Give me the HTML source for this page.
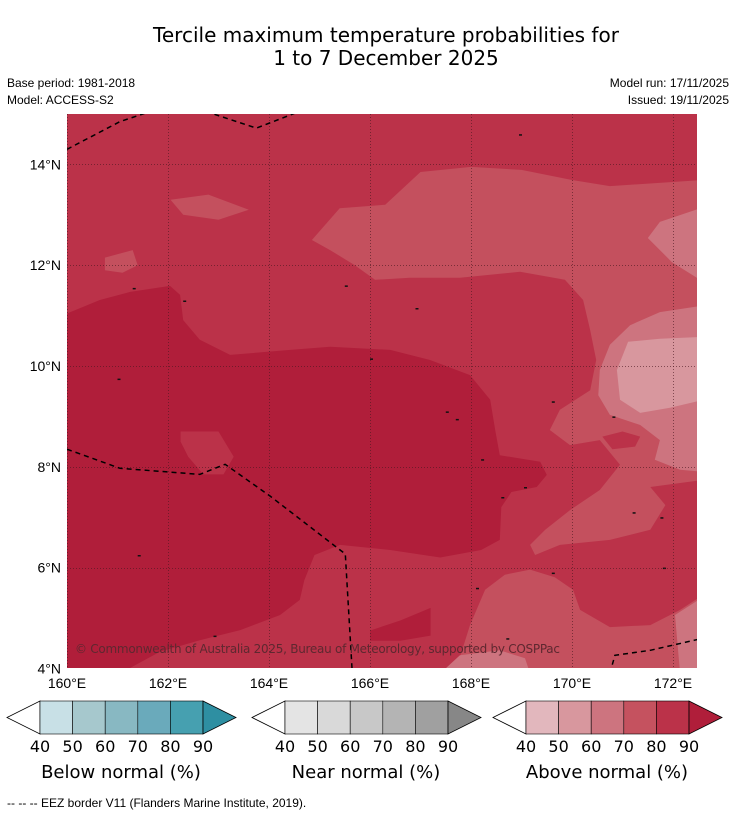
<!DOCTYPE html>
<html><head><meta charset="utf-8">
<style>
body{margin:0;background:#fff;font-family:"Liberation Sans","DejaVu Sans",sans-serif;}
svg{display:block}
</style></head>
<body>
<svg id="chart" width="736" height="816" viewBox="0 0 736 816" xmlns="http://www.w3.org/2000/svg">
<text x="386" y="42" text-anchor="middle" font-size="20" font-family="DejaVu Sans, Liberation Sans, sans-serif">Tercile maximum temperature probabilities for</text>
<text x="386" y="65" text-anchor="middle" font-size="20" font-family="DejaVu Sans, Liberation Sans, sans-serif">1 to 7 December 2025</text>
<text x="7" y="87" font-size="12">Base period: 1981-2018</text>
<text x="7" y="104" font-size="12">Model: ACCESS-S2</text>
<text x="729" y="87" font-size="12" text-anchor="end">Model run: 17/11/2025</text>
<text x="729" y="104" font-size="12" text-anchor="end">Issued: 19/11/2025</text>
<defs><clipPath id="mapclip"><rect x="67" y="114" width="630" height="554"/></clipPath></defs>
<g id="map" clip-path="url(#mapclip)"></g>
<g id="axes"></g>
<g id="legends"></g>
<text x="7" y="807" font-size="12">--  --  -- EEZ border V11 (Flanders Marine Institute, 2019).</text>
</svg>
<script>
const lonTicks=[160,162,164,166,168,170,172];
const latTicks=[4,6,8,10,12,14];
const levelColors={c90:"#b01e3a",c80:"#bb3249",c70:"#c4505e",c60:"#cd747f",c50:"#d8979e"};
// contour polygons [lon,lat]
const above70Top=[[164.85,12.5],[165.4,13.13],[166.3,13.2],[167.0,13.85],[168.0,13.95],[169.0,13.89],[170.0,13.69],[170.75,13.57],[172.6,13.69],[172.6,7.74],[171.55,7.6],[171.85,7.24],[171.55,6.75],[170.75,6.55],[169.76,6.45],[169.27,6.25],[169.17,6.45],[169.47,6.75],[169.96,7.14],[170.55,7.54],[170.95,8.04],[170.55,8.53],[169.96,8.43],[169.56,8.73],[169.76,9.13],[170.36,9.52],[170.48,10.12],[170.36,10.71],[170.22,11.31],[169.86,11.71],[168.97,11.87],[167.78,11.75],[166.79,11.75],[166.1,11.71],[165.7,12.0],[165.21,12.3]];
const above70Bottom=[[167.68,3.9],[167.98,4.86],[168.28,5.56],[168.67,5.86],[169.17,5.96],[169.66,5.81],[170.02,5.56],[170.16,5.16],[170.75,4.82],[171.55,4.86],[172.14,5.16],[172.6,5.46],[172.6,3.9]];
const above70Blob1=[[162.05,13.3],[162.8,13.4],[163.6,13.1],[163.0,12.9],[162.3,13.0]];
const above70Blob2=[[160.75,12.15],[161.3,12.3],[161.4,12.0],[161.1,11.85],[160.75,11.9]];
const above60Top=[[172.6,13.15],[171.74,12.86],[171.5,12.54],[171.98,12.06],[172.6,11.67]];
const above60Mid=[[172.6,11.2],[171.74,11.07],[171.15,10.81],[170.75,10.42],[170.55,9.92],[170.52,9.42],[170.75,9.03],[171.35,8.83],[171.74,8.53],[171.64,8.14],[172.14,7.94],[172.6,7.9]];
const above60Right=[[172.6,5.42],[172.04,5.06],[172.14,3.9],[172.6,3.9]];
const above60Bottom=[[167.39,3.9],[167.78,4.26],[168.57,4.36],[169.07,4.2],[169.17,3.9]];
const above50Blob=[[171.11,10.48],[171.74,10.54],[172.6,10.58],[172.6,9.33],[171.94,9.17],[171.35,9.07],[170.95,9.33],[170.89,9.92]];
const above80Island=[[170.6,8.6],[171.0,8.7],[171.35,8.6],[171.25,8.4],[170.8,8.35]];
const above90Main=[[159.9,11.0],[160.65,11.31],[161.25,11.47],[162.04,11.59],[162.24,11.41],[162.3,10.91],[162.63,10.52],[163.23,10.22],[164.42,10.32],[165.21,10.38],[166.4,10.32],[167.19,10.12],[167.98,9.82],[168.38,9.33],[168.48,8.73],[168.57,8.23],[169.37,8.1],[169.5,7.84],[169.3,7.6],[168.8,7.5],[168.6,7.2],[168.57,6.55],[168.2,6.35],[167.39,6.2],[166.4,6.35],[165.41,6.45],[164.9,6.25],[164.7,5.75],[164.61,5.36],[164.22,5.06],[163.43,4.76],[162.63,4.56],[161.84,4.33],[161.05,3.9],[159.9,3.9]];
const above80InDark=[[162.25,8.7],[163.0,8.7],[163.3,8.2],[163.1,7.85],[162.7,7.85],[162.4,8.2],[162.25,8.5]];
const above90Blob=[[166.0,4.75],[166.6,4.95],[167.2,5.2],[167.2,4.65],[166.6,4.55],[166.0,4.55]];
const eezLines=[
 [[160,14.3],[161.05,14.85],[161.65,15.05]],
 [[162.75,15.05],[163.75,14.72],[164.6,15.05]],
 [[160,8.35],[161.05,7.97],[162.63,7.85],[163.13,8.05],[164.02,7.42],[165.51,6.27],[165.65,3.9]],
 [[170.75,3.9],[170.85,4.26],[171.55,4.36],[172.6,4.6]]
];
const islands=[[168.95,14.6],[162.3,11.3],[161.3,11.55],[165.5,11.6],[166.9,11.15],[166.0,10.15],[161.0,9.75],[167.5,9.1],[167.7,8.95],[168.2,8.15],[169.6,9.3],[170.8,9.0],[169.05,7.6],[168.6,7.4],[171.2,7.1],[171.75,7.0],[171.8,6.0],[169.6,5.9],[162.9,4.65],[168.1,5.6],[168.7,4.6],[172.5,14.85],[161.4,6.25]];
const x=lon=>67+(lon-160)*50.5;
const y=lat=>114+(15-lat)*50.4;
const NS="http://www.w3.org/2000/svg";
const map=document.getElementById('map');
function poly(pts,fill,name){
 const p=document.createElementNS(NS,'polygon');
 p.setAttribute('points',pts.map(q=>x(q[0]).toFixed(1)+','+y(q[1]).toFixed(1)).join(' '));
 p.setAttribute('fill',fill);
 
 
 map.appendChild(p);
}
const bg=document.createElementNS(NS,'rect');
bg.setAttribute('x',67);bg.setAttribute('y',114);bg.setAttribute('width',630);bg.setAttribute('height',554);
bg.setAttribute('fill',levelColors.c80);


map.appendChild(bg);
poly(above70Top,levelColors.c70,'contour-70-top');
poly(above70Bottom,levelColors.c70,'contour-70-bottom');
poly(above70Blob1,levelColors.c70,'contour-70-blob');
poly(above70Blob2,levelColors.c70,'contour-70-blob');
poly(above60Top,levelColors.c60,'contour-60-top');
poly(above60Mid,levelColors.c60,'contour-60-mid');
poly(above60Right,levelColors.c60,'contour-60-right');
poly(above60Bottom,levelColors.c60,'contour-60-bottom');
poly(above50Blob,levelColors.c50,'contour-50-blob');
poly(above80Island,levelColors.c80,'contour-80-island');
poly(above90Main,levelColors.c90,'contour-90-main');
poly(above80InDark,levelColors.c80,'contour-80-in-dark');
poly(above90Blob,levelColors.c90,'contour-90-blob');
islands.forEach(q=>{
 const r=document.createElementNS(NS,'rect');
 r.setAttribute('x',x(q[0]).toFixed(1));r.setAttribute('y',y(q[1]).toFixed(1));
 r.setAttribute('width',3);r.setAttribute('height',1.5);r.setAttribute('fill','#111');
 
 
 map.appendChild(r);
});
// grid
lonTicks.forEach(l=>{
 const g=document.createElementNS(NS,'line');
 g.setAttribute('x1',Math.round(x(l))+0.5);g.setAttribute('x2',Math.round(x(l))+0.5);g.setAttribute('y1',114);g.setAttribute('y2',668);
 g.setAttribute('stroke','#4a1820');g.setAttribute('stroke-width','1');g.setAttribute('stroke-dasharray','1,2');g.setAttribute('stroke-opacity','0.6');
 
 
 map.appendChild(g);
});
latTicks.forEach(l=>{
 const g=document.createElementNS(NS,'line');
 g.setAttribute('y1',Math.round(y(l))+0.5);g.setAttribute('y2',Math.round(y(l))+0.5);g.setAttribute('x1',67);g.setAttribute('x2',697);
 g.setAttribute('stroke','#4a1820');g.setAttribute('stroke-width','1');g.setAttribute('stroke-dasharray','1,2');g.setAttribute('stroke-opacity','0.6');
 
 
 map.appendChild(g);
});
eezLines.forEach(line=>{
 const pl=document.createElementNS(NS,'polyline');
 pl.setAttribute('points',line.map(q=>x(q[0]).toFixed(1)+','+y(q[1]).toFixed(1)).join(' '));
 pl.setAttribute('fill','none');pl.setAttribute('stroke','#000');pl.setAttribute('stroke-width','1.5');pl.setAttribute('stroke-dasharray','5,4');
 
 
 map.appendChild(pl);
});
const cp=document.createElementNS(NS,'text');
cp.setAttribute('x',75);cp.setAttribute('y',653);cp.setAttribute('font-size','12');cp.setAttribute('fill','#5e2830');
cp.setAttribute('font-family','DejaVu Sans, Liberation Sans, sans-serif');
cp.setAttribute('textLength','485');
cp.textContent='© Commonwealth of Australia 2025, Bureau of Meteorology, supported by COSPPac';


map.appendChild(cp);
// axes labels
const axes=document.getElementById('axes');
lonTicks.forEach(l=>{
 const t=document.createElementNS(NS,'text');
 t.setAttribute('x',x(l));t.setAttribute('y',688);t.setAttribute('text-anchor','middle');t.setAttribute('font-size','14');
 t.textContent=l+'°E';
 
 
 axes.appendChild(t);
});
latTicks.forEach(l=>{
 const t=document.createElementNS(NS,'text');
 t.setAttribute('x',61);t.setAttribute('y',y(l)+5);t.setAttribute('text-anchor','end');t.setAttribute('font-size','14');
 t.textContent=l+'°N';
 
 
 axes.appendChild(t);
});
// legends
const legendTitles=['Below normal (%)','Near normal (%)','Above normal (%)'];
const legendOffsets=[7,252,493];
const legendColors=[
 ['#c8e0e6','#a6c8cd','#88b8c2','#6aaabb','#46a0b0','#2e8fa2'],
 ['#e4e4e4','#d9d9d9','#c8c8c8','#b4b4b4','#a0a0a0','#878787'],
 ['#e2b7bd','#d8979e','#cd747f','#c5525f','#bb3249','#b01e3a']];
const legendTicks=[40,50,60,70,80,90];
const leg=document.getElementById('legends');
legendOffsets.forEach((ox,i)=>{
 const g=document.createElementNS(NS,'g');
 
 
 leg.appendChild(g);
 const w=32.6,x0=ox+33,y0=701,h=33;
 const tl=document.createElementNS(NS,'polygon');
 tl.setAttribute('points',`${ox},${y0+h/2} ${x0},${y0} ${x0},${y0+h}`);
 tl.setAttribute('fill','#fff');tl.setAttribute('stroke','#000');tl.setAttribute('stroke-width','0.8');
 
 
 g.appendChild(tl);
 for(let k=0;k<5;k++){
  const r=document.createElementNS(NS,'rect');
  r.setAttribute('x',x0+k*w);r.setAttribute('y',y0);r.setAttribute('width',w);r.setAttribute('height',h);
  r.setAttribute('fill',legendColors[i][k]);r.setAttribute('stroke','#000');r.setAttribute('stroke-width','0.6');
  
  
  g.appendChild(r);
 }
 const xe=x0+5*w;
 const tr=document.createElementNS(NS,'polygon');
 tr.setAttribute('points',`${xe},${y0} ${xe+33},${y0+h/2} ${xe},${y0+h}`);
 tr.setAttribute('fill',legendColors[i][5]);tr.setAttribute('stroke','#000');tr.setAttribute('stroke-width','0.8');
 
 
 g.appendChild(tr);
 legendTicks.forEach((v,k)=>{
  const t=document.createElementNS(NS,'text');
  t.setAttribute('x',x0+k*w);t.setAttribute('y',752);t.setAttribute('text-anchor','middle');t.setAttribute('font-size','16');
  t.setAttribute('font-family','DejaVu Sans, Liberation Sans, sans-serif');
  t.textContent=v;
  
  
  g.appendChild(t);
 });
 const tt=document.createElementNS(NS,'text');
 tt.setAttribute('x',ox+114);tt.setAttribute('y',778);tt.setAttribute('text-anchor','middle');tt.setAttribute('font-size','18');
 tt.setAttribute('font-family','DejaVu Sans, Liberation Sans, sans-serif');
 tt.textContent=legendTitles[i];
 
 
 g.appendChild(tt);
});
</script>
</body></html>
